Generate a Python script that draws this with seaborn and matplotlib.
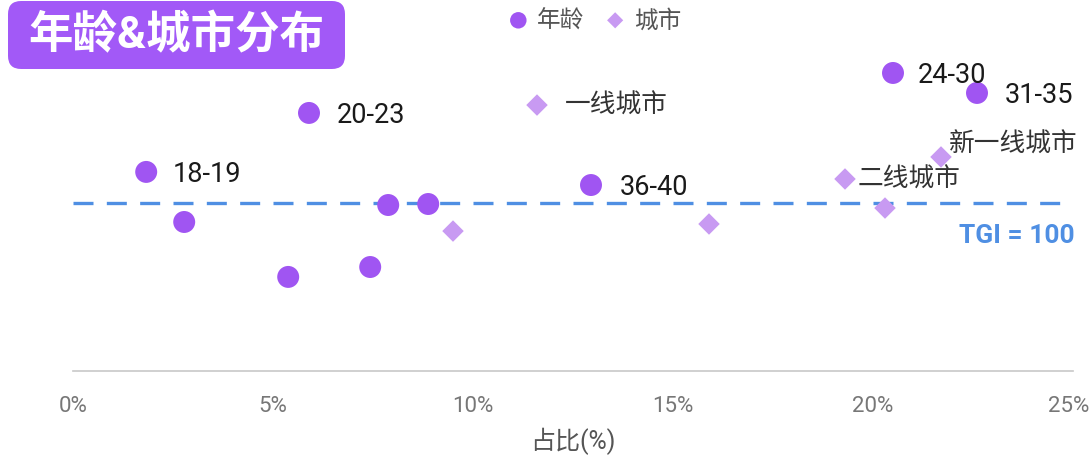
import seaborn as sns
import matplotlib.pyplot as plt
import matplotlib.transforms as mtransforms
import pandas as pd
from matplotlib.patches import FancyBboxPatch

# data (x = share %, y = TGI)
age_labels = ["18-19", "", "20-23", "", "", "", "", "36-40", "24-30", "31-35"]
age_share = [1.83, 2.78, 5.9, 5.38, 7.43, 7.88, 8.88, 12.95, 20.5, 22.6]
age_tgi = [118.5, 88.7, 153.6, 56.0, 61.9, 98.8, 99.4, 110.7, 177.4, 165.5]

city_labels = ["一线城市", "", "", "二线城市", "", "新一线城市"]
city_share = [11.6, 9.5, 15.9, 19.3, 20.3, 21.7]
city_tgi = [158.3, 83.3, 87.5, 114.3, 97.0, 127.4]

x_ticks = [0, 5, 10, 15, 20, 25]
x_ticklabels = ["0%", "5%", "10%", "15%", "20%", "25%"]

age_df = pd.DataFrame({"share": age_share, "tgi": age_tgi, "label": age_labels})
city_df = pd.DataFrame({"share": city_share, "tgi": city_tgi, "label": city_labels})

sns.set_theme(style="white")
plt.rcParams["font.family"] = ["Roboto", "Noto Sans CJK SC", "DejaVu Sans"]

purple = "#A055F2"
light_purple = "#C89AF2"
blue = "#4F8FE3"

fig = plt.figure(figsize=(10.91, 4.6), dpi=100)
ax = fig.add_axes([73 / 1091, 88 / 460, 1000 / 1091, 336 / 460])

sns.scatterplot(data=age_df, x="share", y="tgi", ax=ax, color=purple, marker="o",
                s=250, edgecolor="none", label="年龄", zorder=3)
sns.scatterplot(data=city_df, x="share", y="tgi", ax=ax, color=light_purple, marker="D",
                s=120, edgecolor="none", label="城市", zorder=3)

ax.axhline(100, color=blue, lw=2.4, ls=(0, (6, 4)), zorder=2)
ax.text(25.05, 81, "TGI = 100", color=blue, fontsize=19, fontweight="bold",
        ha="right", va="center")

age_offsets = {"18-19": (19, -1), "20-23": (20, -1), "36-40": (21, -1),
               "24-30": (18, -1), "31-35": (20, -1)}
for _, r in age_df.iterrows():
    if r["label"]:
        ax.annotate(r["label"], (r["share"], r["tgi"]), xytext=age_offsets[r["label"]],
                    textcoords="offset points", fontsize=19.5, color="#1a1a1a",
                    va="center", ha="left")

offsets = {"一线城市": (20, 0), "二线城市": (9, 0), "新一线城市": (6, 10)}
for _, r in city_df.iterrows():
    if r["label"]:
        ax.annotate(r["label"], (r["share"], r["tgi"]), xytext=offsets[r["label"]],
                    textcoords="offset points", fontsize=18.5, color="#333333",
                    va="center", ha="left")

ax.set_xlim(0, 25)
ax.set_ylim(0, 200)
ax.set_xticks(x_ticks)
ax.set_xticklabels(x_ticklabels, fontsize=16, color="#777777")
ax.set_yticks([])
ax.set_ylabel("")
ax.set_xlabel("占比(%)", fontsize=18, color="#555555", labelpad=8)
ax.tick_params(axis="x", length=0, pad=17)
for side in ["top", "right", "left"]:
    ax.spines[side].set_visible(False)
ax.spines["bottom"].set_color("#C8C8C8")
ax.spines["bottom"].set_linewidth(1.2)

# keep the last tick label inside the canvas
last = ax.get_xticklabels()[-1]
last.set_transform(last.get_transform() +
                   mtransforms.ScaledTranslation(-4 / 100, 0, fig.dpi_scale_trans))

leg = ax.legend(loc="center", bbox_to_anchor=(588 / 1091, 1 - 21 / 460),
                bbox_transform=fig.transFigure, ncol=2, frameon=False,
                fontsize=17, handletextpad=-0.2, columnspacing=0.3,
                markerscale=0.75)
for t in leg.get_texts():
    t.set_color("#555555")

# title badge
box = FancyBboxPatch((8 / 1091, 1 - 70 / 460), 337 / 1091, 68 / 460,
                     boxstyle="round,pad=0,rounding_size=0.012",
                     transform=fig.transFigure, facecolor="#A259F7",
                     edgecolor="none", mutation_aspect=1091 / 460)
fig.patches.append(box)
fig.text(176 / 1091, 1 - 36 / 460, "年龄&城市分布", color="white", fontsize=32,
         fontweight="bold", ha="center", va="center")

fig.savefig("out.png", dpi=100)
